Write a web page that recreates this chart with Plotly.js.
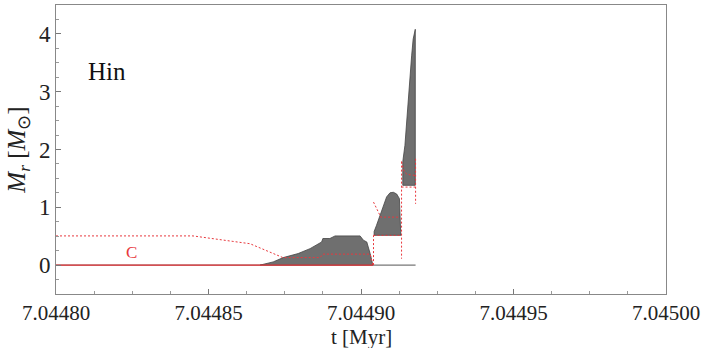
<!DOCTYPE html>
<html>
<head>
<meta charset="utf-8">
<script src="https://cdn.plot.ly/plotly-3.0.1.min.js"></script>
<style>html,body{margin:0;padding:0;background:#fff;}#chart{width:706px;height:348px;}</style>
</head>
<body>
<div id="chart"></div>
<script>
// Baseline (mass coordinate 0)
const baseT = [7.0448000, 7.0449179];
const baseM = [0, 0];

// Grey convective zone 1 (outline, t, M)
const zone1T = [7.0448669, 7.0448712, 7.0448745, 7.0448794, 7.0448833, 7.0448871, 7.0448875, 7.0448898, 7.0448915, 7.0448997, 7.0449008, 7.0449019, 7.0449030, 7.0449039, 7.0448669];
const zone1M = [0, 0.055, 0.13, 0.20, 0.285, 0.40, 0.46, 0.46, 0.505, 0.505, 0.43, 0.40, 0.20, 0, 0];

// Grey convective zone 2
const zone2T = [7.0449043, 7.0449043, 7.0449051, 7.0449062, 7.0449073, 7.0449084, 7.0449095, 7.0449106, 7.0449117, 7.0449126, 7.0449130, 7.0449131, 7.0449043];
const zone2M = [0.515, 0.58, 0.69, 0.86, 1.03, 1.18, 1.25, 1.26, 1.23, 1.15, 0.58, 0.515, 0.515];

// Grey convective zone 3
const zone3T = [7.0449137, 7.0449137, 7.0449144, 7.0449150, 7.0449155, 7.0449161, 7.0449166, 7.0449171, 7.0449177, 7.0449178, 7.0449178, 7.0449137];
const zone3M = [1.38, 1.79, 2.07, 2.53, 2.93, 3.28, 3.62, 3.91, 4.08, 4.08, 1.38, 1.38];

// Red solid: lower boundary of burning shell C
const cLowT = [7.0448000, 7.0449039];
const cLowM = [0, 0];

// Red dotted: burning-shell boundaries (null separates segments)
const cDotT = [7.0448000, 7.0448449, 7.0448580, 7.0448636, 7.0448744, 7.0448866, 7.0448875, 7.0449030, 7.0449039, null,
               7.0449041, 7.0449041, null,
               7.0449041, 7.0449065, 7.0449128, null,
               7.0449041, 7.0449128, null,
               7.0449133, 7.0449133, null,
               7.0449133, 7.0449179, null,
               7.0449179, 7.0449179, null,
               7.0449133, 7.0449141, 7.0449151, 7.0449179];
const cDotM = [0.505, 0.505, 0.41, 0.37, 0.13, 0.13, 0.19, 0.19, 0, null,
               0, 0.515, null,
               1.09, 0.83, 0.83, null,
               0.515, 0.515, null,
               1.79, 0.11, null,
               1.35, 1.35, null,
               1.84, 1.06, null,
               1.79, 1.62, 1.57, 1.55];

const yTicks = [0, 1, 2, 3, 4];
const xTicks = [7.04480, 7.04485, 7.04490, 7.04495, 7.04500];
const xTickText = ["7.04480", "7.04485", "7.04490", "7.04495", "7.04500"];

const grey = "#6f6f6f";
const red = "#e8383d";
const serif = "Liberation Serif";

const traces = [
  {x: baseT, y: baseM, mode: "lines", line: {color: "#555", width: 1}, hoverinfo: "skip"},
  {x: zone1T, y: zone1M, mode: "lines", fill: "toself", fillcolor: grey, line: {color: "#444", width: 0.8}},
  {x: zone2T, y: zone2M, mode: "lines", fill: "toself", fillcolor: grey, line: {color: "#444", width: 0.8}},
  {x: zone3T, y: zone3M, mode: "lines", fill: "toself", fillcolor: grey, line: {color: "#444", width: 0.8}},
  {x: cLowT, y: cLowM, mode: "lines", line: {color: red, width: 1.3}},
  {x: cDotT, y: cDotM, mode: "lines", connectgaps: false, line: {color: red, width: 1, dash: "2px,2px"}}
];

const layout = {
  width: 706, height: 348,
  margin: {l: 56, r: 40, t: 5, b: 54},
  paper_bgcolor: "#fff", plot_bgcolor: "#fff",
  showlegend: false,
  font: {family: serif, color: "#222"},
  xaxis: {
    range: [7.0448, 7.0450],
    tickvals: xTicks, ticktext: xTickText,
    ticks: "inside", ticklen: 5, tickcolor: "#777",
    minor: {dtick: 0.0000125, ticks: "inside", ticklen: 3, tickcolor: "#999"},
    showgrid: false, zeroline: false,
    showline: true, linecolor: "#888", linewidth: 1, mirror: true,
    tickfont: {size: 21, family: serif, color: "#222"}
  },
  yaxis: {
    range: [-0.5, 4.5],
    tickvals: yTicks,
    ticks: "inside", ticklen: 5, tickcolor: "#777",
    minor: {dtick: 0.25, ticks: "inside", ticklen: 3, tickcolor: "#999"},
    showgrid: false, zeroline: false,
    showline: true, linecolor: "#888", linewidth: 1, mirror: true,
    tickfont: {size: 23, family: serif, color: "#222"},
    title: {text: "<i>M</i><sub><i>r</i></sub> [<i>M</i><sub>⊙</sub>]", font: {size: 25, family: serif, color: "#222"}, standoff: 6}
  },
  annotations: [
    {xref: "paper", yref: "paper", x: 0.5, y: -0.150, text: "t [Myr]", showarrow: false,
     font: {size: 21, family: serif, color: "#222"}, xanchor: "center", yanchor: "middle"},
    {xref: "paper", yref: "paper", x: 0.083, y: 0.769, text: "Hin", showarrow: false,
     font: {size: 25, family: serif, color: "#111"}, xanchor: "center", yanchor: "middle"},
    {xref: "x", yref: "y", x: 7.0448249, y: 0.22, text: "C", showarrow: false,
     font: {size: 17, family: serif, color: red}, xanchor: "center", yanchor: "middle"}
  ]
};

Plotly.newPlot("chart", traces, layout, {displayModeBar: false, staticPlot: true});
</script>
</body>
</html>
